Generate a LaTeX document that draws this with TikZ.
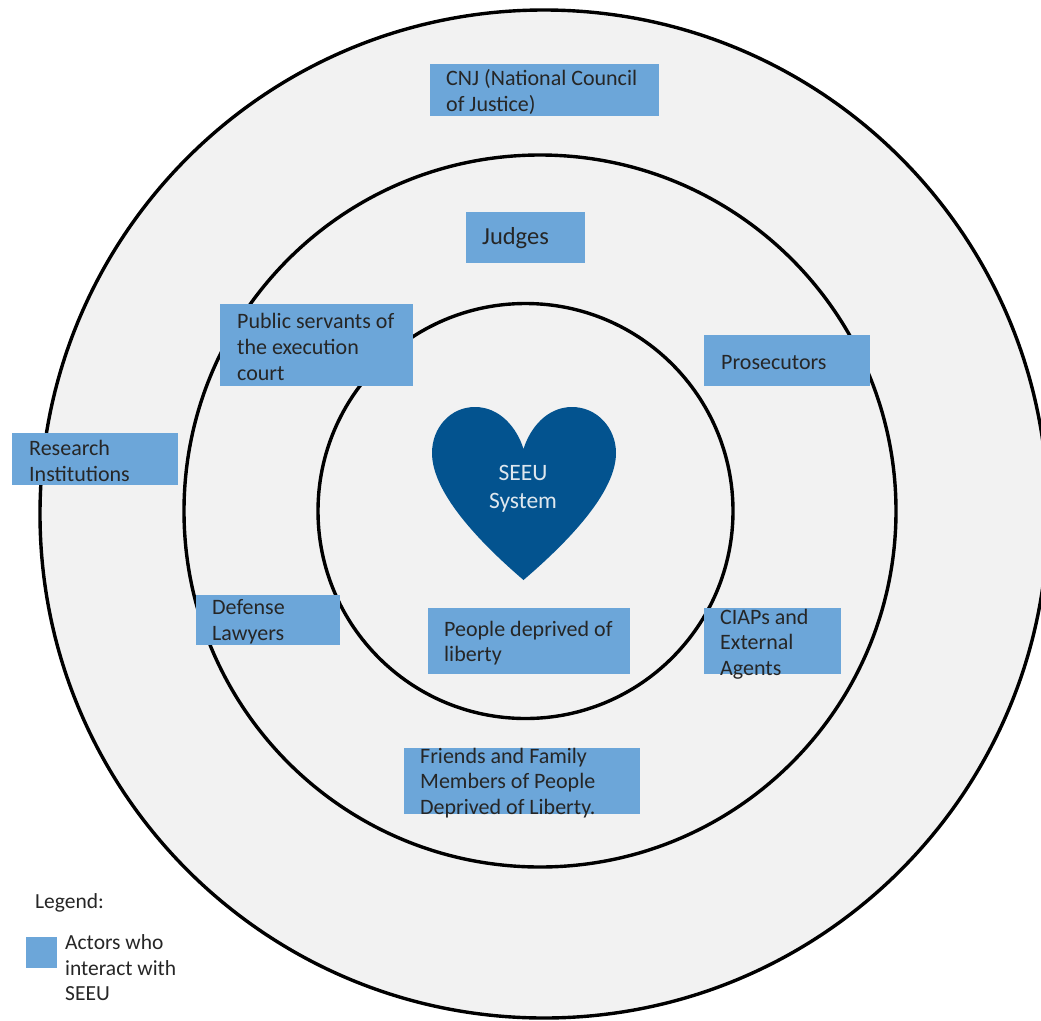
\documentclass[tikz,border=0pt]{standalone}
\usepackage{fontspec}
\setmainfont{Carlito}
\definecolor{boxblue}{HTML}{6CA6D9}
\definecolor{heartblue}{HTML}{03538F}
\definecolor{ringgray}{HTML}{F2F2F2}
\definecolor{inktext}{HTML}{262626}
\tikzset{
  ring/.style={draw=black,line width=3.4pt,fill=ringgray,circle,inner sep=0pt},
  actor/.style={draw=none,fill=boxblue,inner sep=0pt},
  lbl/.style={anchor=west,align=left,inner sep=0pt,text=inktext,font=\fontsize{22}{25.6}\selectfont},
  smalllbl/.style={lbl,font=\fontsize{21.5}{25.4}\selectfont},
}
\newcommand{\actorbox}[5]{\node[actor,minimum width=#4-#2,minimum height=#5-#3] (#1) at ({(#2+#4)/2},{(#3+#5)/2}) {};}
\begin{document}
\begin{tikzpicture}[x=1pt,y=-1pt]
\useasboundingbox (0,0) rectangle (1041,1020);
\clip (0,0) rectangle (1041,1020);
\fill[white] (0,0) rectangle (1041,1020);
\node[ring,minimum size=1008pt] (outer) at (544,514) {};
\node[ring,minimum size=712pt] (middle) at (540,511) {};
\node[ring,minimum size=415pt] (inner) at (525.5,511) {};
\fill[heartblue] (523.5,449)
  .. controls (517,428) and (500,407) .. (475,407)
  .. controls (450,407) and (432,428) .. (432,453)
  .. controls (432,492) and (478,541) .. (523.5,580)
  .. controls (569,541) and (616,492) .. (616,453)
  .. controls (616,428) and (597,407) .. (572,407)
  .. controls (547,407) and (530,428) .. (523.5,449) -- cycle;
\node[lbl,anchor=center,align=center,text=ringgray!85!boxblue,font=\fontsize{23.5}{28}\selectfont] (seeu) at (523,489) {SEEU\\System};
\actorbox{cnj}{430}{64}{659}{116}
\actorbox{judges}{466}{212}{585}{263}
\actorbox{public}{220}{304}{413}{386}
\actorbox{pros}{704}{335}{870}{386}
\actorbox{research}{12}{433}{178}{485}
\actorbox{defense}{196}{595}{340}{645}
\actorbox{people}{428}{608}{630}{674}
\actorbox{ciaps}{704}{608}{841}{674}
\actorbox{friends}{404}{748}{640}{814}
\actorbox{key}{26}{937}{57}{968}
\node[lbl] (tcnj) at (446,92) {CNJ (National Council\\of Justice)};
\node[lbl,font=\fontsize{24.5}{26}\selectfont] (tjudges) at (482,238) {Judges};
\node[lbl] (tpublic) at (237,347) {Public servants of\\the execution\\court};
\node[lbl] (tpros) at (721,363) {Prosecutors};
\node[lbl] (tresearch) at (29,461) {Research\\Institutions};
\node[lbl] (tdefense) at (212,622) {Defense\\Lawyers};
\node[lbl] (tpeople) at (444,643) {People deprived of\\liberty};
\node[lbl] (tciaps) at (720,644) {CIAPs and\\External\\Agents};
\node[lbl] (tfriends) at (420,783) {Friends and Family\\Members of People\\Deprived of Liberty.};
\node[smalllbl] (tlegend) at (35,903) {Legend:};
\node[smalllbl] (tkey) at (65,968) {Actors who\\interact with\\SEEU};
\end{tikzpicture}
\end{document}
